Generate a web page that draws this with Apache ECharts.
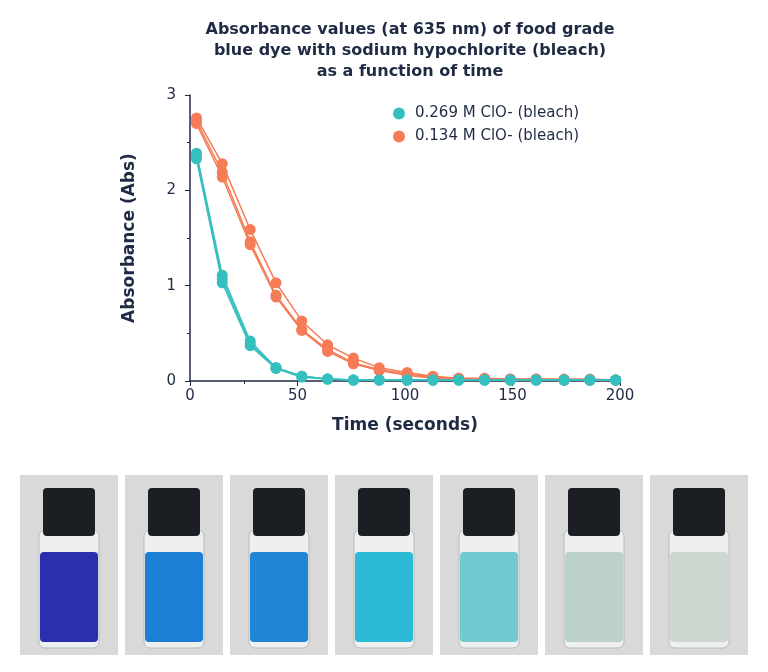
<!DOCTYPE html>
<html><head><meta charset="utf-8">
<script src="https://cdn.jsdelivr.net/npm/echarts@6/dist/echarts.min.js"></script>
<style>html,body{margin:0;padding:0;background:#fff}#c{width:768px;height:672px}</style>
</head><body><div id="c"></div>
<script>
const times = [3,15,28,40,52,64,76,88,101,113,125,137,149,161,174,186,198];
const teal1 = [2.39,1.11,0.42,0.14,0.05,0.02,0.01,0.01,0.01,0.01,0.01,0.01,0.01,0.01,0.01,0.01,0.01];
const teal2 = [2.36,1.07,0.39,0.14,0.05,0.02,0.01,0.01,0.01,0.01,0.01,0.01,0.01,0.01,0.01,0.01,0.01];
const teal3 = [2.33,1.03,0.37,0.13,0.04,0.02,0.01,0.01,0.01,0.01,0.01,0.01,0.01,0.01,0.01,0.01,0.01];
const orange1 = [2.76,2.28,1.59,1.03,0.63,0.38,0.24,0.14,0.09,0.05,0.03,0.03,0.02,0.02,0.02,0.02,0.01];
const orange2 = [2.73,2.19,1.46,0.90,0.54,0.33,0.19,0.12,0.07,0.04,0.03,0.02,0.02,0.02,0.01,0.01,0.01];
const orange3 = [2.70,2.14,1.43,0.88,0.53,0.31,0.18,0.11,0.06,0.03,0.02,0.02,0.01,0.01,0.01,0.01,0.01];
const vialColors = ['#2b2fae','#1d7fd4','#1f86d6','#2cb9d6','#72c9d0','#bcd2c9','#cdd6cf'];

const TEAL='#36bfbf', ORANGE='#f47c56', NAVY='#1f2a44';
const FONT='DejaVu Sans';
function ser(name,data,color){
  return {name:name,type:'line',data:times.map((t,i)=>[t,data[i]]),symbol:'circle',symbolSize:11,
    itemStyle:{color:color},lineStyle:{color:color,width:1.5}};
}
const graphics=[];
for(let i=0;i<7;i++){
  const x0=20+i*105, w=98;
  graphics.push({type:'rect',shape:{x:x0,y:475,width:w,height:180},style:{fill:'#d9d9d9'}});
  const cx=x0+w/2;
  graphics.push({type:'rect',shape:{x:cx-30,y:530,width:60,height:118,r:6},style:{fill:'#eef0f0',stroke:'#b8bcbc'}});
  graphics.push({type:'rect',shape:{x:cx-29,y:552,width:58,height:90,r:4},style:{fill:vialColors[i]}});
  graphics.push({type:'rect',shape:{x:cx-26,y:488,width:52,height:48,r:4},style:{fill:'#1b1f24'}});
}
const chart=echarts.init(document.getElementById('c'));
chart.setOption({
  animation:false,
  title:{text:'Absorbance values (at 635 nm) of food grade\nblue dye with sodium hypochlorite (bleach)\nas a function of time',
    left:405,top:14,textAlign:'center',textStyle:{fontFamily:FONT,fontWeight:'bold',fontSize:16,color:NAVY,lineHeight:21}},
  legend:{data:[{name:'0.269 M ClO- (bleach)',icon:'circle'},{name:'0.134 M ClO- (bleach)',icon:'circle'}],
    orient:'vertical',left:388,top:101,itemGap:8,itemWidth:22,itemHeight:12,
    textStyle:{fontFamily:FONT,fontSize:15,color:NAVY}},
  grid:{left:190,right:148,top:95,bottom:291},
  xAxis:{type:'value',min:0,max:200,interval:50,name:'Time (seconds)',nameLocation:'middle',nameGap:36,
    nameTextStyle:{fontFamily:FONT,fontWeight:'bold',fontSize:17,color:NAVY},
    axisLine:{lineStyle:{color:NAVY,width:1.5}},axisTick:{lineStyle:{color:NAVY}},
    axisLabel:{fontFamily:FONT,fontSize:15,color:NAVY},splitLine:{show:false},
    minorTick:{show:true,splitNumber:2,length:3,lineStyle:{color:NAVY}}},
  yAxis:{type:'value',min:0,max:3,interval:1,name:'Absorbance (Abs)',nameLocation:'middle',nameGap:52,
    nameTextStyle:{fontFamily:FONT,fontWeight:'bold',fontSize:17,color:NAVY},
    axisLine:{show:true,lineStyle:{color:NAVY,width:1.5}},axisTick:{show:true,lineStyle:{color:NAVY}},
    axisLabel:{fontFamily:FONT,fontSize:15,color:NAVY,margin:14},splitLine:{show:false},
    minorTick:{show:true,splitNumber:2,length:3,lineStyle:{color:NAVY}}},
  series:[
    ser('0.134 M ClO- (bleach)',orange1,ORANGE),ser('0.134 M ClO- (bleach)',orange2,ORANGE),ser('0.134 M ClO- (bleach)',orange3,ORANGE),
    ser('0.269 M ClO- (bleach)',teal1,TEAL),ser('0.269 M ClO- (bleach)',teal2,TEAL),ser('0.269 M ClO- (bleach)',teal3,TEAL)
  ],
  graphic:graphics
});
</script></body></html>
